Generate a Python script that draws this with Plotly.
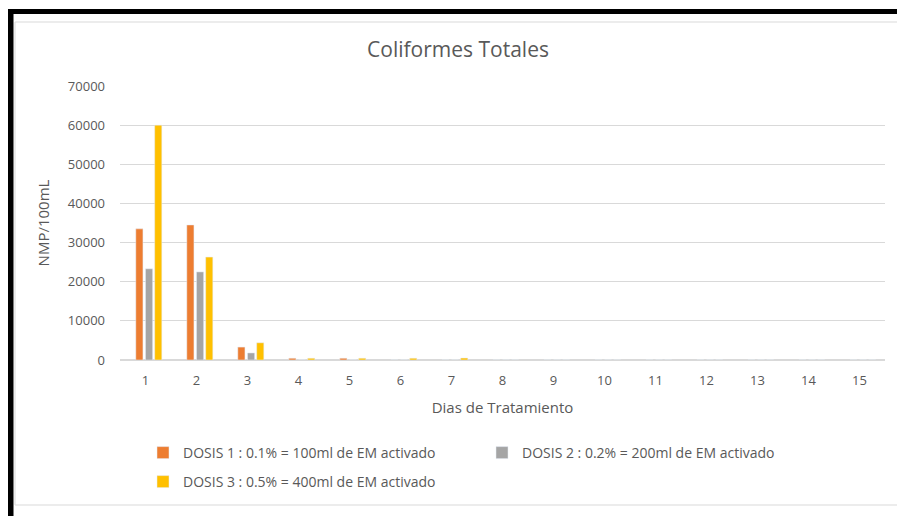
import plotly.graph_objects as go

dias = [str(i) for i in range(1, 16)]
dosis1 = [33500, 34500, 3300, 450, 450, 0, 0, 0, 0, 0, 0, 0, 0, 0, 0]
dosis2 = [23300, 22500, 1800, 0, 0, 0, 0, 0, 0, 0, 0, 0, 0, 0, 0]
dosis3 = [60000, 26300, 4400, 450, 450, 450, 500, 0, 0, 0, 0, 0, 0, 0, 0]
y_ticks = [0, 10000, 20000, 30000, 40000, 50000, 60000, 70000]

names = ["DOSIS 1 : 0.1% = 100ml de EM activado",
         "DOSIS 2 : 0.2% = 200ml de EM activado",
         "DOSIS 3 : 0.5% = 400ml de EM activado"]
colors = ["#ED7D31", "#A5A5A5", "#FFC000"]

OFF = 8  # page body margin
W, H = 905 - OFF, 516 - OFF
L, T = 120 - OFF, 86 - OFF
PW, PH = 765, 274
R = W - L - PW
B = H - T - PH

def px(x):  # screen x -> paper
    return (x - OFF - L) / PW

def py(y):  # screen y -> paper
    return (T + PH - (y - OFF)) / PH

TXT = "#595959"
FONT = "Open Sans"

BAR_W = 0.14
bar_offsets = [-0.19, 0.0, 0.18]
series = [dosis1, dosis2, dosis3]
legends = ["legend", "legend", "legend2"]

fig = go.Figure()
for vals, nm, col, off, lg in zip(series, names, colors, bar_offsets, legends):
    fig.add_trace(go.Bar(x=dias, y=vals, name=nm, marker_color=col, legend=lg,
                         width=BAR_W, offset=off))

shapes = [
    dict(type="rect", xref="paper", yref="paper", x0=px(15), x1=px(903), y0=py(22), y1=py(505),
         line=dict(color="#D9D9D9", width=1), fillcolor="rgba(0,0,0,0)", layer="below"),
    dict(type="rect", xref="paper", yref="paper", x0=px(8), x1=px(906), y0=py(9), y1=py(14),
         line=dict(width=0), fillcolor="#000000"),
    dict(type="rect", xref="paper", yref="paper", x0=px(8), x1=px(13.5), y0=py(9), y1=py(517),
         line=dict(width=0), fillcolor="#000000"),
]

fig.update_layout(
    width=W, height=H,
    margin=dict(l=L, r=R, t=T, b=B, autoexpand=False),
    paper_bgcolor="white", plot_bgcolor="white",
    barmode="overlay",
    title=dict(text="Coliformes Totales", xref="paper", x=px(458), xanchor="center",
               yref="container", y=1 - (50 - OFF) / H, yanchor="middle",
               font=dict(family=FONT, size=21, color=TXT)),
    font=dict(family=FONT, size=12, color=TXT),
    xaxis=dict(type="category", showgrid=False, showline=False, ticks="",
               ticklabelstandoff=11,
               tickfont=dict(size=13, color=TXT),
               title=dict(text="Dias de Tratamiento", font=dict(size=15, color=TXT), standoff=14)),
    yaxis=dict(range=[0, 70000], tickvals=y_ticks, ticktext=[str(v) for v in y_ticks],
               showgrid=True, gridcolor="#D9D9D9", gridwidth=1, zeroline=True, zerolinecolor="#D9D9D9",
               showline=False, ticks="", ticklabelstandoff=14,
               tickfont=dict(size=13, color=TXT),
               title=dict(text="NMP/100mL", font=dict(size=15, color=TXT), standoff=14)),
    legend=dict(orientation="h", x=px(143), xanchor="left", y=py(437), yanchor="top",
                entrywidth=294, entrywidthmode="pixels",
                font=dict(size=14, color=TXT), bgcolor="rgba(0,0,0,0)"),
    legend2=dict(orientation="h", x=px(143), xanchor="left", y=py(466), yanchor="top",
                 font=dict(size=14, color=TXT), bgcolor="rgba(0,0,0,0)"),
    shapes=shapes,
    showlegend=True,
)

fig.write_html("out.html")
